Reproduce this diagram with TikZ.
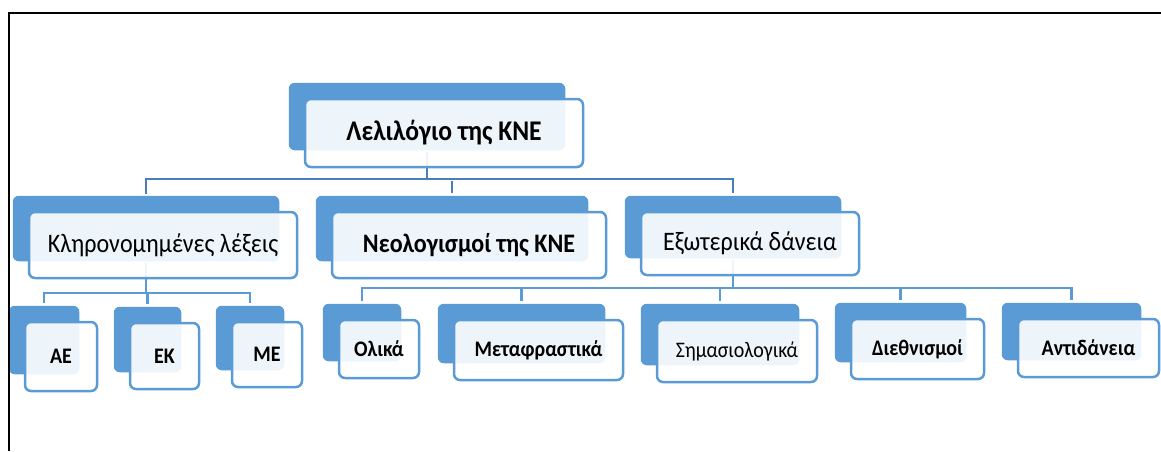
\documentclass[tikz,border=0pt]{standalone}
\usepackage{fontspec}
\setmainfont{Carlito}[FakeStretch=0.9]
\usetikzlibrary{positioning, fit, calc}
\pgfdeclarelayer{bg}
\pgfsetlayers{bg,main}
\definecolor{boxblue}{RGB}{91,155,213}
\definecolor{edgeblue}{RGB}{74,126,187}

\begin{document}
\begin{tikzpicture}[x=1pt, y=-1pt,
            front/.style={draw=boxblue, line width=2.5pt, rounded corners=6pt, fill=white, fill opacity=0.9, text opacity=1, inner sep=0pt},
            back/.style={fill=boxblue, rounded corners=6pt, inner xsep=-2pt, inner ysep=-1.5pt, xshift=-17pt, yshift=16.5pt},
            edge/.style={line width=2.5pt, boxblue, shorten <=2pt},
            topedge/.style={edge, edgeblue},
            root/.style={font=\fontsize{28.5}{32}\selectfont\bfseries},
            head/.style={font=\fontsize{26.7}{30}\selectfont\bfseries},
            headthin/.style={font=\fontsize{26.7}{30}\selectfont},
            leaf/.style={font=\fontsize{22.2}{26}\selectfont\bfseries},
            leafthin/.style={font=\fontsize{22.2}{26}\selectfont}
        ]
        \useasboundingbox (0,0) rectangle (1161,451);

        % Rahmen
        \draw[line width=2pt] (9,451) -- (9,13) -- (1161,13);

        % Knoten
        \node[front, root, minimum width=278pt, minimum height=68pt] (lex) at (444,133) {Λελιλόγιο της ΚΝΕ};
        \node[front, headthin, minimum width=268pt, minimum height=66pt] (inh) at (163,245) {Κληρονομημένες λέξεις};
        \node[front, head, minimum width=274pt, minimum height=66pt] (neo) at (469,245) {Νεολογισμοί της ΚΝΕ};
        \node[front, headthin, minimum width=218pt, minimum height=63pt] (ext) at (750,243.5) {Εξωτερικά δάνεια};
        \node[front, leaf, minimum width=72pt, minimum height=69pt] (ae) at (61,356.5) {ΑΕ};
        \node[front, leaf, minimum width=69pt, minimum height=66pt] (ek) at (164.5,356) {ΕΚ};
        \node[front, leaf, minimum width=70pt, minimum height=65pt] (me) at (267,354.5) {ΜΕ};
        \node[front, leaf, minimum width=80pt, minimum height=58pt] (ol) at (379,349) {Ολικά};
        \node[front, leaf, minimum width=169pt, minimum height=60pt] (met) at (538.5,350) {Μεταφραστικά};
        \node[front, leafthin, minimum width=160pt, minimum height=62pt] (sim) at (737,351) {Σημασιολογικά};
        \node[front, leaf, minimum width=133pt, minimum height=60pt] (die) at (917.5,349) {Διεθνισμοί};
        \node[front, leaf, minimum width=141pt, minimum height=58pt] (ant) at (1088.5,348) {Αντιδάνεια};

        \begin{pgfonlayer}{bg}
            % Rückseiten
            \foreach \n in {lex, inh, neo, ext, ae, ek, me, ol, met, sim, die, ant}
                \node[back, fit=(\n)] (\n back) {};

            % Kanten
            \coordinate (busa) at (0,179);
            \coordinate (busb) at (0,293);
            \coordinate (busc) at (0,288);

            \draw[topedge] (lexback.south) -- (lexback.south |- busa);
            \draw[topedge, shorten >=3pt] (inhback.north) |- (busa -| extback.north) -- (extback.north);
            \draw[topedge, shorten >=3pt] (neoback.north |- busa) -- (neoback.north);

            \draw[edge] (inhback.south) -- (inhback.south |- busb);
            \draw[edge, shorten >=3pt, shorten <=3pt] (aeback.north) |- (busb -| meback.north) -- (meback.north);
            \draw[edge, shorten >=3pt, shorten <=0pt] (ekback.north |- busb) -- (ekback.north);

            \draw[edge] (extback.south) -- (extback.south |- busc);
            \draw[edge, shorten >=3pt, shorten <=3pt] (olback.north) |- (busc -| antback.north) -- (antback.north);
            \foreach \n in {met, sim, die}
                \draw[edge, shorten >=3pt, shorten <=0pt] (\n back.north |- busc) -- (\n back.north);
        \end{pgfonlayer}

    \end{tikzpicture}
\end{document}
